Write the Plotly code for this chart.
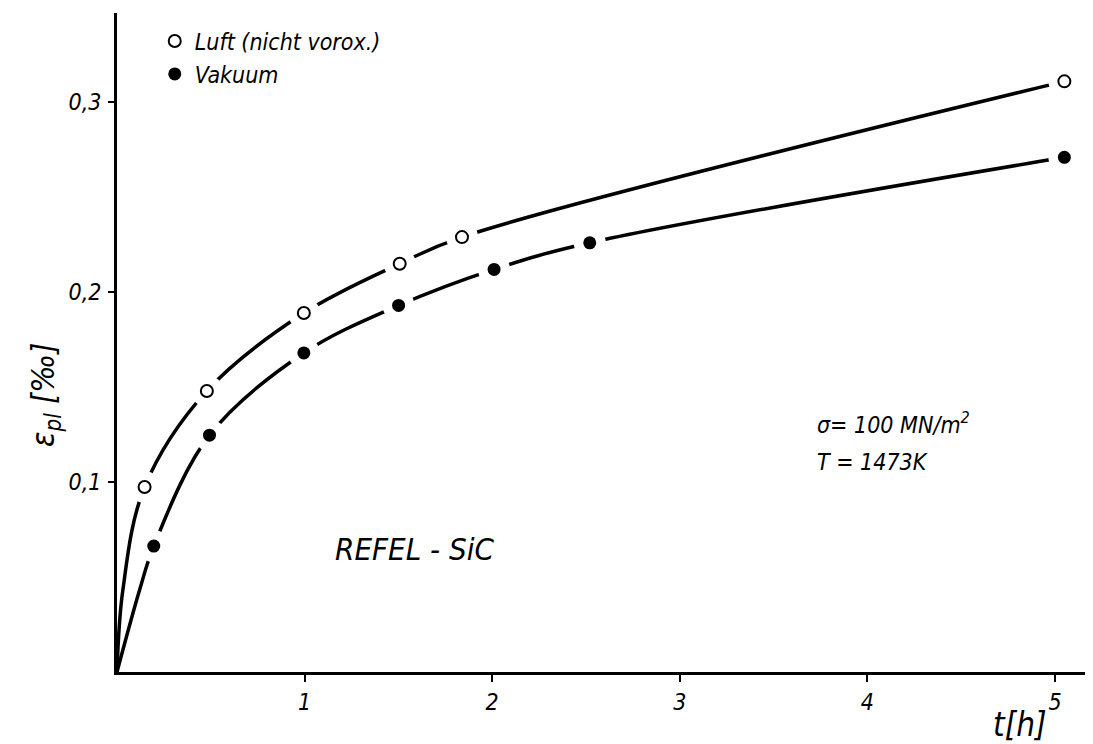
import plotly.graph_objects as go

# measured points
luft_t = [0.147, 0.479, 0.996, 1.507, 1.839, 5.05]
luft_eps = [0.0974, 0.148, 0.189, 0.215, 0.229, 0.311]
vak_t = [0.196, 0.493, 0.996, 1.501, 2.01, 2.52, 5.05]
vak_eps = [0.0663, 0.1247, 0.168, 0.193, 0.212, 0.226, 0.271]

# drawn curves
luft_curve_t = [0, 0.031, 0.147, 0.479, 0.996, 1.507, 1.839, 5.05]
luft_curve_eps = [0, 0.043, 0.0974, 0.148, 0.189, 0.215, 0.229, 0.311]
vak_curve_t = [0, 0.12, 0.196, 0.493, 0.996, 1.501, 2.01, 2.52, 5.05]
vak_curve_eps = [0, 0.043, 0.0663, 0.1247, 0.168, 0.193, 0.212, 0.226, 0.271]

x_ticks = [1, 2, 3, 4, 5]
x_ticktext = ["1", "2", "3", "4", "5"]
y_ticks = [0.1, 0.2, 0.3]
y_ticktext = ["0,1", "0,2", "0,3"]

FONT = "DejaVu Sans Condensed, Liberation Sans Narrow, Arial Narrow, sans-serif"

fig = go.Figure()
for ct, ce in [(luft_curve_t, luft_curve_eps), (vak_curve_t, vak_curve_eps)]:
    fig.add_trace(go.Scatter(x=ct, y=ce, mode="lines", showlegend=False, hoverinfo="skip",
                             line=dict(color="black", width=3.5, shape="spline", smoothing=1.0)))
# white halos around points (gaps in the drawn curves)
for t, e in [(luft_t, luft_eps), (vak_t, vak_eps)]:
    fig.add_trace(go.Scatter(x=t, y=e, mode="markers", showlegend=False, hoverinfo="skip",
                             marker=dict(color="white", size=32, line=dict(width=0))))
fig.add_trace(go.Scatter(x=luft_t, y=luft_eps, mode="markers", name="Luft (nicht vorox.)",
                         marker=dict(symbol="circle", color="white", size=12,
                                     line=dict(color="black", width=2))))
fig.add_trace(go.Scatter(x=vak_t, y=vak_eps, mode="markers", name="Vakuum",
                         marker=dict(symbol="circle", color="black", size=13,
                                     line=dict(color="black", width=0))))

fig.update_layout(
    width=1093, height=744,
    margin=dict(l=117, r=8, t=13, b=72),
    paper_bgcolor="white", plot_bgcolor="white",
    font=dict(family=FONT, color="black", size=22, style="italic"),
    legend=dict(x=0.039, y=0.99, xanchor="left", yanchor="top",
                bgcolor="rgba(0,0,0,0)", font=dict(size=23, family=FONT, style="italic"),
                itemsizing="trace", tracegroupgap=0),
    xaxis=dict(range=[0, 5.16], showgrid=False, zeroline=False, showline=True,
               linecolor="black", linewidth=3, ticks="outside", ticklen=7, tickwidth=2,
               tickcolor="black", tickvals=x_ticks, ticktext=x_ticktext,
               tickfont=dict(size=23, family=FONT, style="italic"), ticklabelstandoff=0),
    yaxis=dict(range=[0, 0.347], showgrid=False, zeroline=False, showline=True,
               linecolor="black", linewidth=3, ticks="outside", ticklen=6, tickwidth=2,
               tickcolor="black", tickvals=y_ticks, ticktext=y_ticktext,
               tickfont=dict(size=23, family=FONT, style="italic"), ticklabelstandoff=2),
)

fig.add_annotation(x=1.15, y=0.065, xref="x", yref="y", xanchor="left", yanchor="middle",
                   text="REFEL - SiC", showarrow=False,
                   font=dict(size=31, family=FONT, style="italic"))
fig.add_annotation(x=3.72, y=0.131, xref="x", yref="y", xanchor="left", yanchor="middle",
                   text="σ= 100 MN/m<sup>2</sup>", showarrow=False,
                   font=dict(size=23, family=FONT, style="italic"))
fig.add_annotation(x=3.72, y=0.1105, xref="x", yref="y", xanchor="left", yanchor="middle",
                   text="T = 1473K", showarrow=False,
                   font=dict(size=23, family=FONT, style="italic"))
fig.add_annotation(x=(1020 - 117) / 968, y=(672 - 725) / 659, xref="paper", yref="paper",
                   xanchor="center", yanchor="middle", text="t[h]", showarrow=False,
                   font=dict(size=33, family=FONT, style="italic"))
fig.add_annotation(x=(45 - 117) / 968, y=(672 - 395) / 659, xref="paper", yref="paper",
                   xanchor="center", yanchor="middle", textangle=-90,
                   text="ε<sub>pl</sub> [‰]", showarrow=False,
                   font=dict(size=32, family=FONT, style="italic"))

fig.write_html("out.html", post_script="document.body.style.margin='0';",
               config={"displayModeBar": False})
